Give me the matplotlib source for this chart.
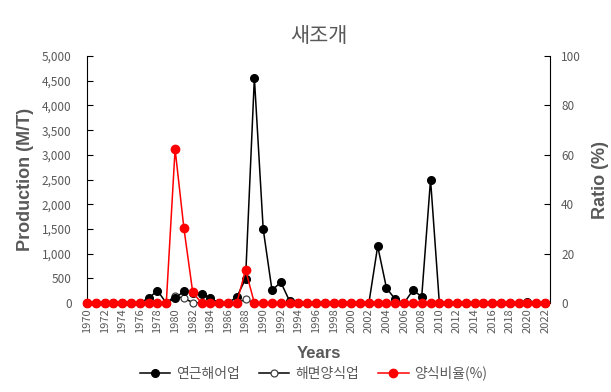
import numpy as np
import matplotlib.pyplot as plt
from matplotlib.ticker import FuncFormatter, MultipleLocator

plt.rcParams['font.family'] = ['Noto Sans CJK KR', 'DejaVu Sans']

years = np.arange(1970, 2023)

# 연근해어업 (M/T)
coastal = [0, 0, 0, 0, 0, 0, 0, 100, 250, 0,
           95, 240, 210, 190, 100, 0, 0, 120, 490, 4560,
           1500, 260, 420, 40, 0, 0, 0, 0, 0, 0,
           0, 0, 0, 1150, 300, 75, 0, 260, 130, 2500,
           0, 0, 0, 0, 0, 0, 0, 0, 0, 0,
           30, 0, 0]
# 해면양식업 (M/T)
aqua = [0, 0, 0, 0, 0, 0, 0, 0, 0, 0,
        145, 95, 10, 0, 0, 0, 0, 0, 75, 0,
        0, 0, 0, 0, 0, 0, 0, 0, 0, 0,
        0, 0, 0, 0, 0, 0, 0, 0, 0, 0,
        0, 0, 0, 0, 0, 0, 0, 0, 0, 0,
        0, 0, 0]
# 양식비율 (%)
ratio = [0, 0, 0, 0, 0, 0, 0, 0, 0, 0,
         62.3, 30.3, 4.4, 0, 0, 0, 0, 0, 13.4, 0,
         0, 0, 0, 0, 0, 0, 0, 0, 0, 0,
         0, 0, 0, 0, 0, 0, 0, 0, 0, 0,
         0, 0, 0, 0, 0, 0, 0, 0, 0, 0,
         0, 0, 0]

grey = '#595959'
latin = ['Liberation Sans', 'DejaVu Sans']

fig = plt.figure(figsize=(6.11, 3.92), dpi=100)
ax = fig.add_axes([0.1424, 0.227, 0.7576, 0.630])
ax2 = ax.twinx()

l1, = ax.plot(years, coastal, color='black', lw=1.1, marker='o', ms=5.5,
              mfc='black', mec='black', clip_on=False, zorder=3)
l2, = ax.plot(years, aqua, color='black', lw=1.1, marker='o', ms=5,
              mfc='white', mec='#404040', mew=0.9, clip_on=False, zorder=2)
l3, = ax2.plot(years, ratio, color='red', lw=1.1, marker='o', ms=6,
               mfc='red', mec='red', clip_on=False, zorder=4)

ax.set_xlim(1970, 2022.55)
ax.set_ylim(0, 5000)
ax2.set_ylim(0, 100)

ax.yaxis.set_major_locator(MultipleLocator(500))
ax.yaxis.set_major_formatter(FuncFormatter(lambda v, p: f'{int(v):,}'))
ax2.yaxis.set_major_locator(MultipleLocator(20))
ax.set_xticks(years[::2])
ax.set_xticklabels([str(y) for y in years[::2]], rotation=90)

for a in (ax, ax2):
    for s in ('top', 'bottom'):
        a.spines[s].set_visible(False)
ax.spines['right'].set_visible(False)
ax2.spines['left'].set_visible(False)
ax.spines['left'].set_color('black')
ax2.spines['right'].set_color('black')

ax.tick_params(axis='y', direction='in', length=4, color='black',
               labelsize=8.5, labelcolor=grey, pad=11)
ax2.tick_params(axis='y', direction='in', length=4, color='black',
                labelsize=8.5, labelcolor=grey, pad=8)
ax.tick_params(axis='x', length=0, labelsize=8, labelcolor=grey, pad=4)

ax.set_ylabel('Production (M/T)', fontsize=13, fontweight='bold',
              color=grey, family=latin, labelpad=6)
ax2.set_ylabel('Ratio (%)', fontsize=13, fontweight='bold',
               color=grey, family=latin, labelpad=8)
ax.set_xlabel('Years', fontsize=12, fontweight='bold', color=grey,
              family=latin, labelpad=9)
ax.set_title('새조개', fontsize=15, color=grey, pad=10)

fig.legend([l1, l2, l3], ['연근해어업', '해면양식업', '양식비율(%)'],
           loc='center', bbox_to_anchor=(0.513, 0.048), ncol=3, frameon=False,
           fontsize=10, labelcolor=grey, handlelength=2.2, columnspacing=1.4,
           handletextpad=0.4)

fig.savefig('out.png', dpi=100)
